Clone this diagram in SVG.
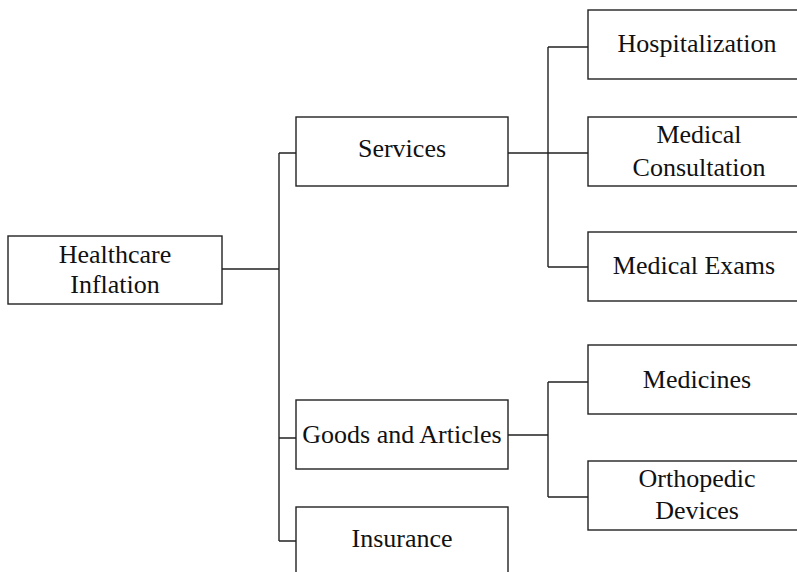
<svg xmlns="http://www.w3.org/2000/svg" width="797" height="572" viewBox="0 0 797 572">
<style>
.box{fill:#fff;stroke:#222;stroke-width:1.4}
.lbl{font-size:26px;fill:#111;text-anchor:middle}
.conn{fill:none;stroke:#222;stroke-width:1.4}
</style>
<rect width="797" height="572" fill="#fff"/>
<g id="connectors">
<path class="conn" d="M222 269H279M279 153V541M279 153H296M279 438H296M279 541H296"/>
<path class="conn" d="M508 153H588M548 47V267M548 47H588M548 267H588"/>
<path class="conn" d="M508 435H548M548 382V497M548 382H588M548 497H588"/>
</g>
<g font-family="Liberation Serif, Times New Roman, DejaVu Serif, serif">
<g id="healthcare-inflation"><rect class="box" x="8" y="236" width="214" height="68"/><text class="lbl" x="115" y="263">Healthcare</text><text class="lbl" x="115" y="293">Inflation</text></g>
<g id="services"><rect class="box" x="296" y="117" width="212" height="69"/><text class="lbl" x="402" y="157">Services</text></g>
<g id="goods-and-articles"><rect class="box" x="296" y="400" width="212" height="69"/><text class="lbl" x="402" y="443">Goods and Articles</text></g>
<g id="insurance"><rect class="box" x="296" y="507" width="212" height="69"/><text class="lbl" x="402" y="547">Insurance</text></g>
<g id="hospitalization"><rect class="box" x="588" y="10" width="218" height="69"/><text class="lbl" x="697" y="52">Hospitalization</text></g>
<g id="medical-consultation"><rect class="box" x="588" y="117" width="218" height="69"/><text class="lbl" x="699" y="143">Medical</text><text class="lbl" x="699" y="176">Consultation</text></g>
<g id="medical-exams"><rect class="box" x="588" y="232" width="218" height="69"/><text class="lbl" x="694" y="274">Medical Exams</text></g>
<g id="medicines"><rect class="box" x="588" y="345" width="218" height="69"/><text class="lbl" x="697" y="388">Medicines</text></g>
<g id="orthopedic-devices"><rect class="box" x="588" y="461" width="218" height="69"/><text class="lbl" x="697" y="487">Orthopedic</text><text class="lbl" x="697" y="519">Devices</text></g>
</g>
</svg>
